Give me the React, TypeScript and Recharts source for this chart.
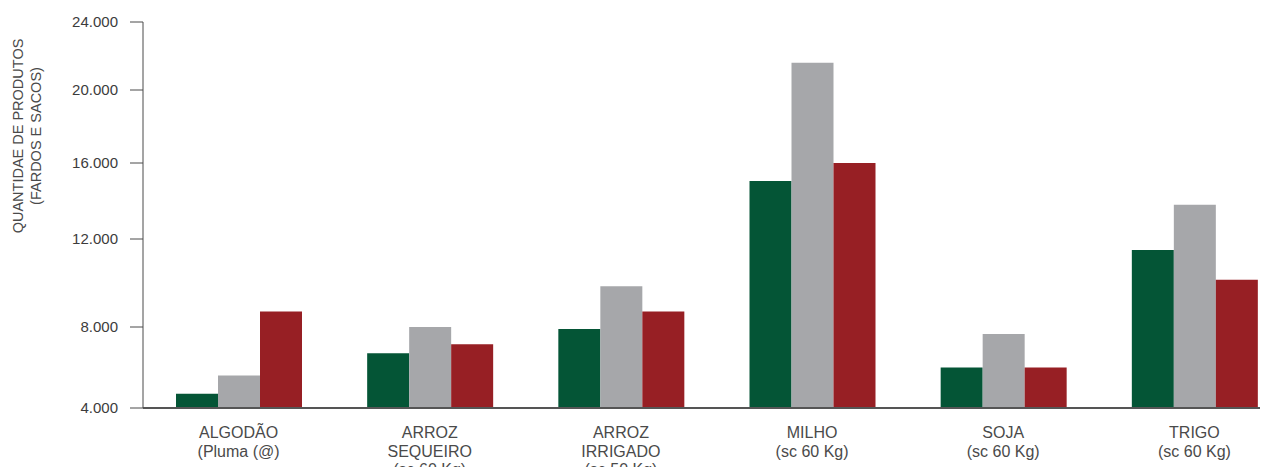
import { BarChart, Bar, XAxis, YAxis } from 'recharts';

const categories = [
  'ALGODÃO\n(Pluma (@)',
  'ARROZ\nSEQUEIRO\n(sc 60 Kg)',
  'ARROZ\nIRRIGADO\n(sc 50 Kg)',
  'MILHO\n(sc 60 Kg)',
  'SOJA\n(sc 60 Kg)',
  'TRIGO\n(sc 60 Kg)',
];
const serie1 = [4700, 6700, 7900, 15050, 6000, 11500];
const serie2 = [5600, 8000, 9850, 21600, 7650, 13800];
const serie3 = [8700, 7150, 8700, 16000, 6000, 10150];
const yTicks = [4000, 8000, 12000, 16000, 20000, 24000];

// the original axis is not evenly spaced; where each tick sits along the axis (0 = bottom, 1 = top)
const tickStops = [0, 81, 169, 245, 318, 386].map((v) => v / 386);

const FONT = '"Liberation Sans", Arial, sans-serif';

function stopFraction(v: number) {
  const n = yTicks.length;
  for (let i = 1; i < n; i++) {
    if (v <= yTicks[i] || i === n - 1) {
      const t = (v - yTicks[i - 1]) / (yTicks[i] - yTicks[i - 1]);
      return tickStops[i - 1] + t * (tickStops[i] - tickStops[i - 1]);
    }
  }
  return 0;
}

function piecewiseScale(): any {
  let dom: number[] = [yTicks[0], yTicks[yTicks.length - 1]];
  let rng: number[] = [0, 1];
  const scale: any = (v: number) => rng[0] + stopFraction(Number(v)) * (rng[1] - rng[0]);
  scale.domain = (d?: number[]) => {
    if (d === undefined) return dom.slice();
    dom = d.map(Number);
    return scale;
  };
  scale.range = (r?: number[]) => {
    if (r === undefined) return rng.slice();
    rng = r.map(Number);
    return scale;
  };
  scale.copy = () => piecewiseScale().domain(dom).range(rng);
  scale.ticks = () => yTicks.slice();
  scale.nice = () => scale;
  return scale;
}

const data = categories.map((c, i) => ({
  name: c,
  serie1: serie1[i],
  serie2: serie2[i],
  serie3: serie3[i],
}));

const fmt = (v: number) => v.toLocaleString('de-DE', { minimumFractionDigits: 0 }).replace(',', '.');

const CategoryTick = ({ x, y, payload }: any) => {
  const lines = String(payload.value).split('\n');
  return (
    <text x={x} y={y} textAnchor="middle" fill="#4a4a4a" fontSize={16} fontFamily={FONT}>
      {lines.map((l, i) => (
        <tspan key={i} x={x} dy={i === 0 ? 30 : 18.5}>{l}</tspan>
      ))}
    </text>
  );
};

const YLabel = () => (
  <g fill="#4a4a4a" fontSize={14.5} fontFamily={FONT}>
    <text transform="translate(23, 136) rotate(-90)" textAnchor="middle">QUANTIDAE DE PRODUTOS</text>
    <text transform="translate(41, 136) rotate(-90)" textAnchor="middle">(FARDOS E SACOS)</text>
  </g>
);

export default function App() {
  return (
    <div style={{ margin: -8, width: 1268, height: 475, overflow: 'hidden', background: '#fff' }}>
      <BarChart
        width={1300}
        height={475}
        data={data}
        margin={{ top: 22, right: 10, left: 0, bottom: 7 }}
        barGap={0}
        barSize={42}
      >
        <XAxis
          dataKey="name"
          interval={0}
          tickLine={false}
          tickSize={0}
          tickMargin={0}
          height={60}
          axisLine={{ stroke: '#555', strokeWidth: 2 }}
          tick={<CategoryTick />}
        />
        <YAxis
          width={143}
          scale={piecewiseScale()}
          domain={[4000, 24000]}
          ticks={yTicks}
          interval={0}
          tickSize={13}
          tickMargin={12}
          tickFormatter={fmt}
          axisLine={{ stroke: '#4a4a4a' }}
          tickLine={{ stroke: '#4a4a4a' }}
          tick={{ fill: '#3c3c3c', fontSize: 15, fontFamily: FONT }}
          label={{ content: <YLabel /> }}
        />
        <Bar dataKey="serie1" fill="#045536" isAnimationActive={false} />
        <Bar dataKey="serie2" fill="#a6a7aa" isAnimationActive={false} />
        <Bar dataKey="serie3" fill="#971f24" isAnimationActive={false} />
      </BarChart>
    </div>
  );
}
